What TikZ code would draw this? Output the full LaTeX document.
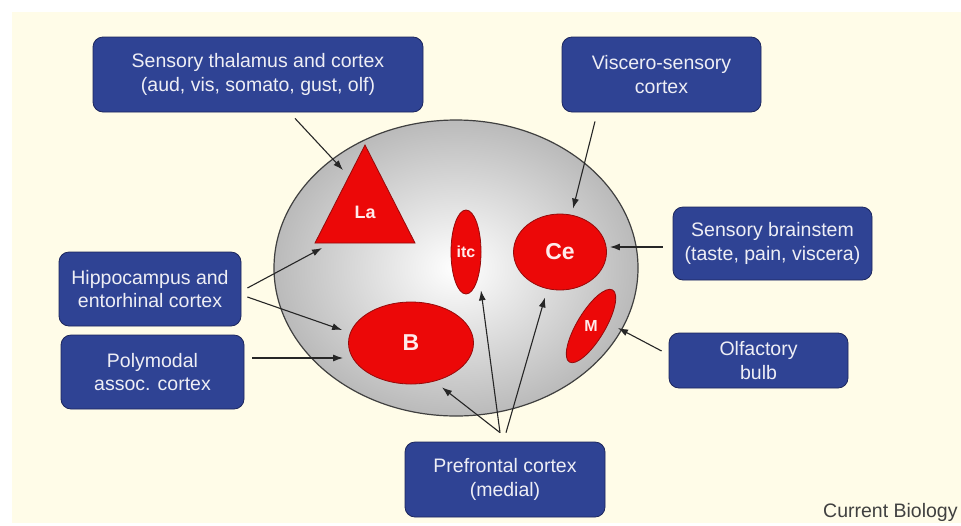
\documentclass[tikz,border=0pt]{standalone}
\usepackage{fontspec}
\setmainfont{Liberation Sans}
\usetikzlibrary{shapes.geometric,arrows.meta,calc}
\definecolor{paper}{RGB}{255,252,232}
\definecolor{boxblue}{RGB}{47,67,148}
\definecolor{boxline}{RGB}{28,38,92}
\definecolor{boxtext}{RGB}{238,238,245}
\definecolor{nucred}{RGB}{236,8,8}
\definecolor{redline}{RGB}{150,10,10}
\tikzset{
 box/.style={draw=boxline, fill=boxblue, rounded corners=5pt, text=boxtext, align=center,
  font=\fontsize{9.75}{11.8}\selectfont, inner sep=0pt},
 region/.style={draw=redline, fill=nucred, line width=0.4pt},
 lab/.style={text=white!92!red, inner sep=0pt, font=\bfseries},
 arr/.style={draw=black!85, line width=0.55pt, -{Latex[length=5pt,width=3.5pt]}},
}
\begin{document}
\begin{tikzpicture}[x=0.5pt,y=-0.5pt]
 \useasboundingbox (0,0) rectangle (961,525);
 \fill[paper] (12,12) rectangle (961,523);
 % amygdala
 \node[draw=black!75, line width=0.6pt, ellipse, minimum width=182pt, minimum height=148pt,
  inner color=white, outer color=black!27] (amy) at (456,268) {};
 \filldraw[region] (365,145) -- (315,243) -- (415,243) -- cycle;
 \node[lab, font=\bfseries\fontsize{9}{9}\selectfont] (la) at (365,212) {La};
 \node[region, lab, ellipse, minimum width=15pt, minimum height=42pt,
  font=\bfseries\fontsize{8}{8}\selectfont] (itc) at (466,252) {itc};
 \node[region, lab, ellipse, minimum width=46.5pt, minimum height=38pt,
  font=\bfseries\fontsize{11.5}{11.5}\selectfont] (ce) at (560,252) {Ce};
 \node[region, lab, ellipse, minimum width=62.5pt, minimum height=41pt,
  font=\bfseries\fontsize{11.5}{11.5}\selectfont] (b) at (411,343) {B};
 \node[region, lab, ellipse, rotate=59, minimum width=42pt, minimum height=14pt,
  font=\bfseries\fontsize{8}{8}\selectfont] (m) at (591,326) {\rotatebox{-59}{M}};
 % inputs
 \node[box, minimum width=165pt, minimum height=37.5pt] (thal) at (258,74.5)
  {Sensory thalamus and cortex\\(aud, vis, somato, gust, olf)};
 \node[box, minimum width=99.5pt, minimum height=37.5pt] (visc) at (661.5,74.5)
  {Viscero-sensory\\cortex};
 \node[box, minimum width=99.5pt, minimum height=36.5pt] (brain) at (772.5,243.5)
  {Sensory brainstem\\(taste, pain, viscera)};
 \node[box, minimum width=91pt, minimum height=37pt] (hippo) at (150,289)
  {Hippocampus and\\entorhinal cortex};
 \node[box, minimum width=91.5pt, minimum height=37pt] (poly) at (152.5,372)
  {Polymodal\\assoc. cortex};
 \node[box, minimum width=100pt, minimum height=37.5pt] (pref) at (505,479.5)
  {Prefrontal cortex\\(medial)};
 \node[box, minimum width=89.5pt, minimum height=27.5pt] (olf) at (758.5,360.5)
  {Olfactory\\bulb};
 \node[anchor=east, text=black!75, inner sep=0pt, font=\fontsize{9.75}{12}\selectfont]
  (journal) at (958,512) {Current Biology};
 % arrows
 \draw[arr] ($(thal.south)+(37,6)$) -- ($(la)+(-22,-42)$);
 \draw[arr] ($(visc.south)+(-66.5,9)$) -- ($(ce.north)+(13,-5)$);
 \draw[arr] ($(brain.west)+(-10,3.5)$) -- ($(ce.east)+(3,-5)$);
 \draw[arr] ($(hippo.east)+(6,-1)$) -- ($(la)+(-43,36)$);
 \draw[arr] ($(hippo.east)+(6,8)$) -- ($(b.west)+(-6,-13)$);
 \draw[arr] ($(poly.east)+(8,-14)$) -- ($(b.west)+(-5,15)$);
 \draw[arr] ($(pref.north)+(-5,-9)$) -- ($(b.south)+(31,3)$);
 \draw[arr] ($(pref.north)+(-5,-9)$) -- ($(itc.south)+(15,-4)$);
 \draw[arr] ($(pref.north)+(1,-9)$) -- ($(ce.south)+(-15,7)$);
 \draw[arr] ($(olf.west)+(-7,-9.5)$) -- ($(m)+(27,2)$);
\end{tikzpicture}
\end{document}
